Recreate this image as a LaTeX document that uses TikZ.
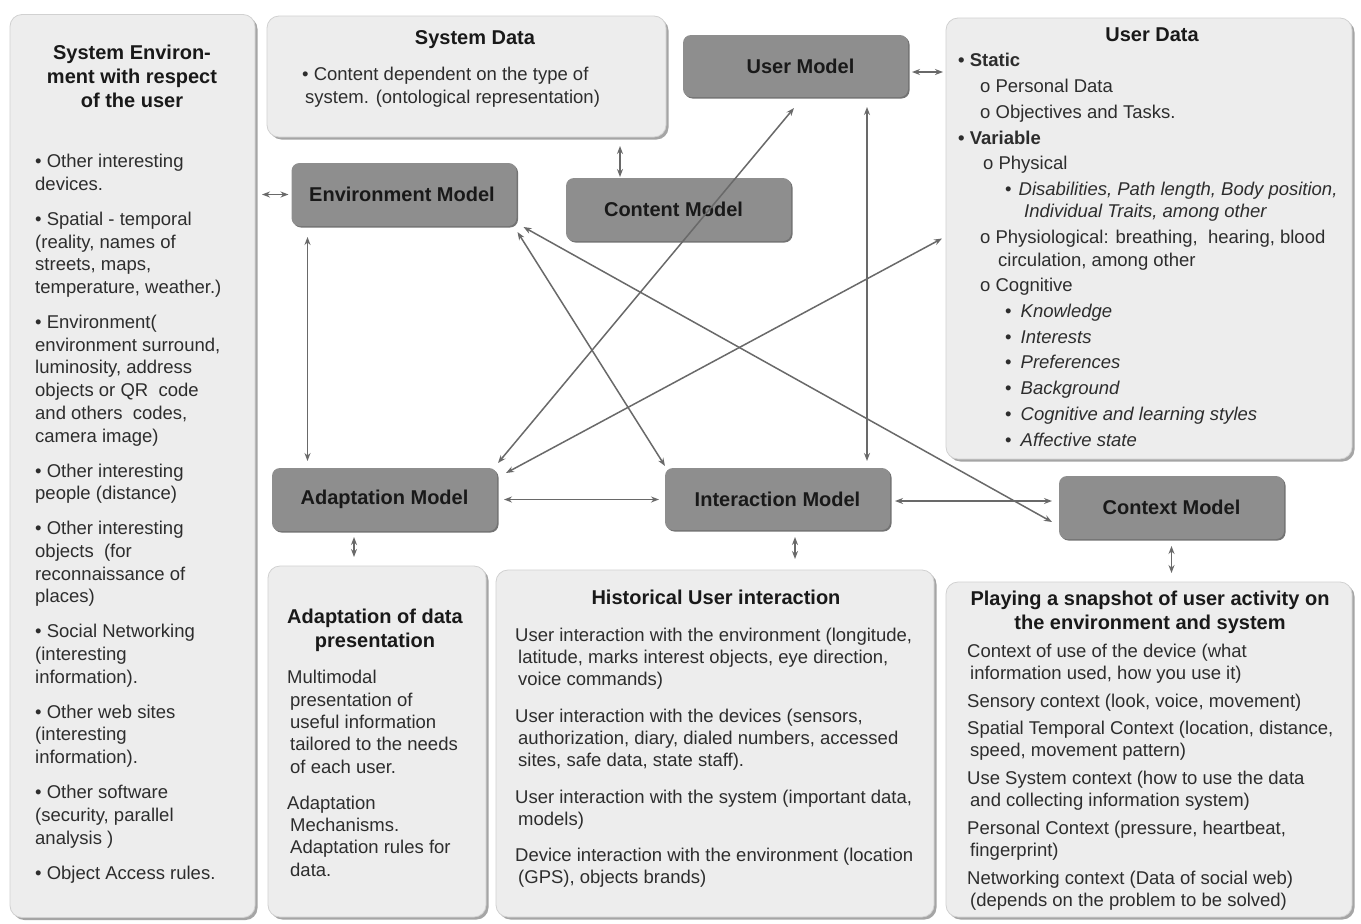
\documentclass[tikz,border=0pt]{standalone}
\usepackage{fontspec}
\setmainfont{Liberation Sans}
\usetikzlibrary{arrows.meta,shadows}
\definecolor{panelfill}{RGB}{237,237,237}
\definecolor{panelshadow}{RGB}{165,165,165}
\definecolor{modelfill}{RGB}{142,142,142}
\definecolor{modelshadow}{RGB}{115,115,115}
\definecolor{linec}{RGB}{105,105,105}
\definecolor{txt}{RGB}{45,45,45}
\definecolor{ttl}{RGB}{25,25,25}
\newcommand\myind{\hspace*{3pt}}
\begin{document}
\begin{tikzpicture}[x=1pt,y=-1pt,
 panel/.style={rounded corners=12pt, fill=panelfill, draw=panelfill!88!black, line width=0.8pt,
   drop shadow={shadow xshift=2.5pt, shadow yshift=-2.5pt, fill=panelshadow, opacity=1},
   inner sep=0pt, outer sep=0pt},
 model/.style={rounded corners=8pt, fill=modelfill,
   drop shadow={shadow xshift=1.5pt, shadow yshift=-1.5pt, fill=modelshadow, opacity=1},
   inner sep=0pt, outer sep=0pt, minimum width=225pt, minimum height=63pt,
   font=\fontsize{20}{24}\selectfont\bfseries, text=ttl},
 ttlf/.style={font=\fontsize{20}{24}\selectfont\bfseries, text=ttl, align=center, inner sep=0pt, anchor=base},
 body/.style={font=\fontsize{18.5}{22.7}\selectfont, text=txt, align=left, inner sep=0pt, anchor=base west},
 conn/.style={draw=linec, line width=1.5pt, {Stealth[length=8pt,width=6pt]}-{Stealth[length=8pt,width=6pt]}},
]
\useasboundingbox (0,0) rectangle (1361,924);
\fill[white] (0,0) rectangle (1361,924);

% panels
\node[panel, minimum width=245pt, minimum height=903pt] (envpanel) at (132.5,466) {};
\node[panel, minimum width=399pt, minimum height=121pt] (sysdata) at (466.5,76.5) {};
\node[panel, minimum width=406pt, minimum height=441pt] (userdata) at (1149,238.5) {};
\node[panel, minimum width=218pt, minimum height=351pt] (adpanel) at (377,741.5) {};
\node[panel, minimum width=438pt, minimum height=347pt] (histpanel) at (715,743.5) {};
\node[panel, minimum width=406pt, minimum height=335pt] (playpanel) at (1149,749.5) {};

% model boxes
\node[model, minimum height=62pt] (um) at (795.5,66) {\hspace*{10pt}User Model};
\node[model] (envm) at (404,194.5) {Environment Model\hspace*{4pt}};
\node[model] (contm) at (678.5,209.5) {Content Model\hspace*{10pt}};
\node[model] (adapt) at (384.5,499.5) {Adaptation Model};
\node[model, minimum height=62pt] (inter) at (777.5,499) {Interaction Model};
\node[model] (ctx) at (1171.5,507.5) {Context Model};

% left panel text (anchor = baseline of last line)
\node[ttlf] (envttl) at (132,107) {System Environ-\\ment with respect\\of the user};
\node[body] (envtxt) at (35,879) {• Other interesting\\devices.\\[12.3pt]
• Spatial - temporal\\(reality, names of\\streets, maps,\\temperature, weather.)\\[12.3pt]
• Environment(\\environment surround,\\luminosity, address\\objects or QR\ \ code\\and others\ \ codes,\\camera image)\\[12.3pt]
• Other interesting\\people (distance)\\[12.3pt]
• Other interesting\\objects\ \ (for\\reconnaissance of\\places)\\[12.3pt]
• Social Networking\\(interesting\\information).\\[12.3pt]
• Other web sites\\(interesting\\information).\\[12.3pt]
• Other software\\(security, parallel\\analysis )\\[12.3pt]
• Object Access rules.};

% system data
\node[ttlf] (sdttl) at (475,44) {System Data};
\node[body] (sdtxt) at (302,103) {• Content dependent on the type of\\\myind system. (ontological representation)};

% user data
\node[ttlf] (udttl) at (1152,41) {User Data};
\node[body, font=\fontsize{18.5}{22.5}\selectfont] (udtxt) at (958,446) {\textbf{• Static}\\[3.2pt]
\hspace*{22pt}o Personal Data\\[3.2pt]
\hspace*{22pt}o Objectives and Tasks.\\[3.2pt]
\textbf{• Variable}\\[3.2pt]
\hspace*{25pt}o Physical\\[3.2pt]
\hspace*{47pt}•\hspace{7pt}\textit{Disabilities, Path length, Body position,}\\
\hspace*{66pt}\textit{Individual Traits, among other}\\[3.2pt]
\hspace*{22pt}o Physiological: breathing,\ \ hearing, blood\\
\hspace*{40pt}circulation, among other\\[3.2pt]
\hspace*{22pt}o Cognitive\\[3.2pt]
\hspace*{47pt}•\hspace{9pt}\textit{Knowledge}\\[3.2pt]
\hspace*{47pt}•\hspace{9pt}\textit{Interests}\\[3.2pt]
\hspace*{47pt}•\hspace{9pt}\textit{Preferences}\\[3.2pt]
\hspace*{47pt}•\hspace{9pt}\textit{Background}\\[3.2pt]
\hspace*{47pt}•\hspace{9pt}\textit{Cognitive and learning styles}\\[3.2pt]
\hspace*{47pt}•\hspace{9pt}\textit{Affective state}};

% adaptation panel
\node[ttlf] (adttl) at (375,647) {Adaptation of data\\presentation};
\node[body, font=\fontsize{18.5}{22.3}\selectfont] (adtxt) at (287,876) {Multimodal\\\myind presentation of\\\myind useful information\\\myind tailored to the needs\\\myind of each user.\\[13.7pt]
Adaptation\\\myind Mechanisms.\\\myind Adaptation rules for\\\myind data.};

% historical panel
\node[ttlf] (histttl) at (716,604) {Historical User interaction};
\node[body, font=\fontsize{18.5}{22}\selectfont] (histtxt) at (515,883) {User interaction with the environment (longitude,\\\myind latitude, marks interest objects, eye direction,\\\myind voice commands)\\[15pt]
User interaction with the devices (sensors,\\\myind authorization, diary, dialed numbers, accessed\\\myind sites, safe data, state staff).\\[15pt]
User interaction with the system (important data,\\\myind models)\\[14pt]
Device interaction with the environment (location\\\myind (GPS), objects brands)};

% playing panel
\node[ttlf] (playttl) at (1150,629) {Playing a snapshot of user activity on\\the environment and system};
\node[body, font=\fontsize{18.5}{22}\selectfont] (playtxt) at (967,906) {Context of use of the device (what\\\myind information used, how you use it)\\[6pt]
Sensory context (look, voice, movement)\\[5pt]
Spatial Temporal Context (location, distance,\\\myind speed, movement pattern)\\[6pt]
Use System context (how to use the data\\\myind and collecting information system)\\[6pt]
Personal Context (pressure, heartbeat,\\\myind fingerprint)\\[6pt]
Networking context (Data of social web)\\\myind (depends on the problem to be solved)};

% connector anchor points
\coordinate (cmtop) at ([xshift=-58.5pt]contm.north);
\coordinate (umr) at ([yshift=-6pt]um.east);
\coordinate (e4) at ([xshift=16pt]envm.south west);
\coordinate (u9) at ([xshift=-41pt]um.south east);
\coordinate (ir) at ([yshift=-2pt]inter.east);
\coordinate (a12) at ([xshift=-30.5pt]adapt.south);
\coordinate (i13) at ([xshift=17.5pt]inter.south);

% connectors
\draw[conn, shorten <=7pt, shorten >=3pt] (envpanel.east |- envm.west) -- (envm.west);
\draw[conn, shorten <=9pt, shorten >=1pt] (sysdata.south -| cmtop) -- (cmtop);
\draw[conn, shorten <=4pt, shorten >=3pt] (umr) -- (userdata.west |- umr);
\draw[conn, shorten <=11pt, shorten >=7pt] (e4) -- (adapt.north -| e4);
\draw[conn] ([xshift=1pt,yshift=-6pt]envm.south east) -- ([yshift=2pt]inter.north west);
\draw[conn] ([xshift=7pt,yshift=-1pt]envm.south east) -- ([xshift=-7pt,yshift=-14.5pt]ctx.west);
\draw[conn] ([xshift=-1.5pt,yshift=-11pt]um.south) -- ([xshift=1pt,yshift=5pt]adapt.north east);
\draw[conn] ([xshift=-4pt]userdata.west) -- ([xshift=9pt,yshift=-5pt]adapt.north east);
\draw[conn, shorten <=10pt, shorten >=7pt] (u9) -- (inter.north -| u9);
\draw[conn, shorten <=7pt, shorten >=6pt] (adapt.east) -- (inter.west |- adapt.east);
\draw[conn, shorten <=5pt, shorten >=7pt] (ir) -- (ctx.west |- ir);
\draw[conn, shorten <=6pt, shorten >=9pt] (a12) -- (adpanel.north -| a12);
\draw[conn, shorten <=7pt, shorten >=11pt] (i13) -- (histpanel.north -| i13);
\draw[conn, shorten <=7pt, shorten >=9pt] (ctx.south) -- (playpanel.north -| ctx.south);
\end{tikzpicture}
\end{document}
